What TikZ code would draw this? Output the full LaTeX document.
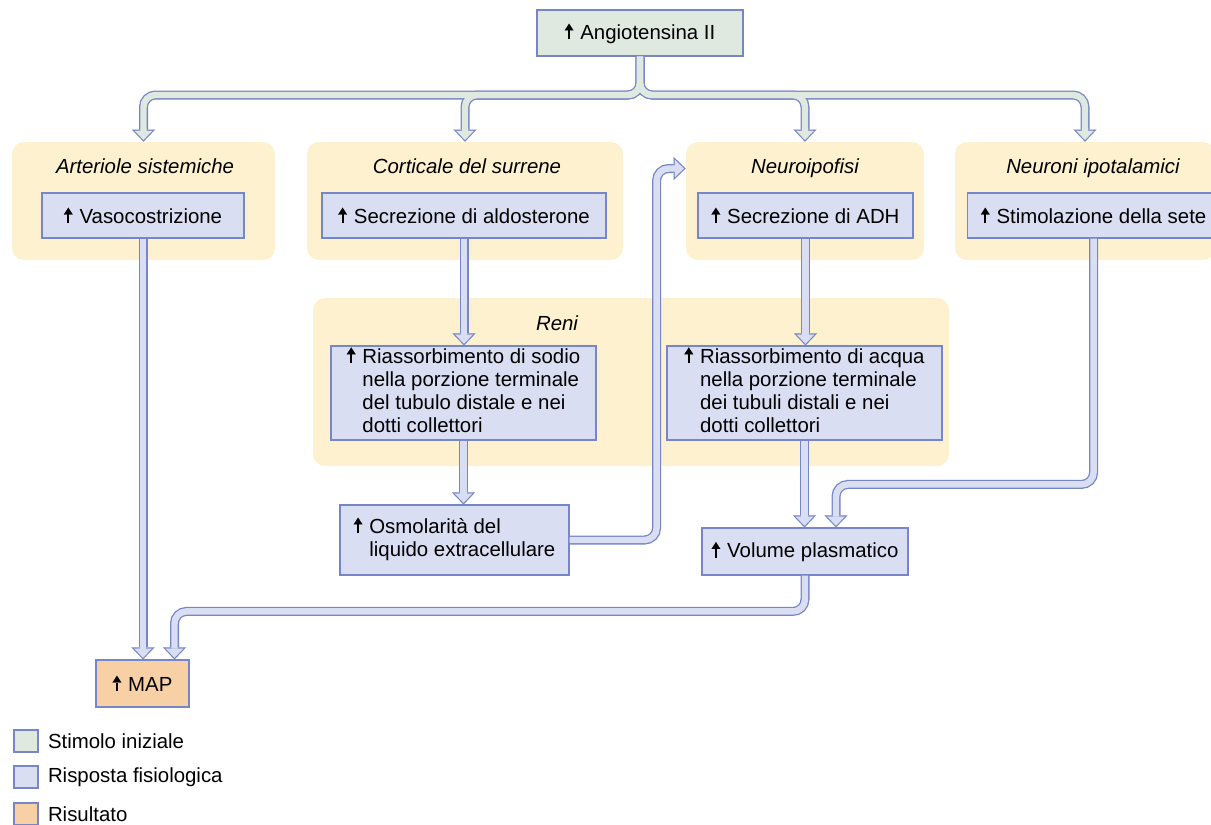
\documentclass[tikz,border=0pt]{standalone}
\usepackage{fontspec}
\setmainfont{Liberation Sans}
\usetikzlibrary{arrows.meta, positioning, calc}

\definecolor{stimgreen}{RGB}{223,233,224}
\definecolor{resplav}{RGB}{218,222,242}
\definecolor{resorange}{RGB}{248,208,166}
\definecolor{organyel}{RGB}{253,241,207}
\definecolor{pipeline}{RGB}{118,134,198}

% freccia di aumento
\newcommand{\incr}{\tikz[baseline=0pt]\draw[black, line width=1.1pt,
  -{Triangle[length=3.4pt,width=4.4pt,line width=0.01pt]}] (0pt,0pt) -- (0pt,7.8pt);\kern0.6pt}

\tikzset{
  organ/.style={fill=organyel, rounded corners=6pt, inner sep=0pt},
  organtitle/.style={font=\fontsize{10.2}{11.6}\selectfont\itshape, inner sep=0pt,
    text height=7.4pt, text depth=2.2pt},
  box/.style={draw=pipeline, line width=0.6pt, fill=#1, inner sep=0pt},
  pipeedge/.style={draw=pipeline, line width=4.5pt, rounded corners=6pt, shorten >=0pt,
    -{Triangle[length=6pt,width=11.5pt,line width=0.01pt]}},
  pipefill/.style={draw=#1, line width=3.2pt, rounded corners=6pt, shorten >=0.87pt,
    -{Triangle[length=4.5pt,width=8.7pt,line width=0.01pt]}},
  pipe/.style={pipefill=#1, preaction={pipeedge}},
}

\begin{document}
\begin{tikzpicture}[x=0.5pt, y=-0.5pt, font=\fontsize{10.2}{11.6}\selectfont]
\useasboundingbox (0,0) rectangle (1211,825);

% organi
\node[organ, minimum width=131.5pt, minimum height=59pt] (arter) at (143.5,201) {};
\node[organ, minimum width=158pt, minimum height=59pt] (cort) at (465,201) {};
\node[organ, minimum width=119pt, minimum height=59pt] (neuro) at (805,201) {};
\node[organ, minimum width=130pt, minimum height=59pt] (ipot) at (1085,201) {};
\node[organ, minimum width=318pt, minimum height=84pt] (reni) at (631,382) {};
\node[organtitle] (t-arter) at (145,168.5) {Arteriole sistemiche};
\node[organtitle] (t-cort) at (467,168.5) {Corticale del surrene};
\node[organtitle] (t-neuro) at (805,168.5) {Neuroipofisi};
\node[organtitle] (t-ipot) at (1093,168.5) {Neuroni ipotalamici};
\node[organtitle] (t-reni) at (557,325) {Reni};

% stimolo iniziale
\node[box=stimgreen, minimum width=103pt, minimum height=23pt] (ang) at (640,33) {\incr\ Angiotensina II};

% risposte
\node[box=resplav, minimum width=101pt, minimum height=22.5pt] (vaso) at (143,215.5) {\incr\ Vasocostrizione};
\node[box=resplav, minimum width=142pt, minimum height=22.5pt] (aldo) at (464,215.5) {\incr\ Secrezione di aldosterone};
\node[box=resplav, minimum width=107.5pt, minimum height=22.5pt] (adh) at (805.5,215.5) {\incr\ Secrezione di ADH};
\node[box=resplav, minimum width=126pt, minimum height=22.5pt, anchor=west] (sete) at (967,215.5) {\incr\ Stimolazione della sete};
\node[box=resplav, minimum width=132.5pt, minimum height=47pt] (sodio) at (463.5,393) {%
  \begin{tabular}{@{}l@{\ }l@{}}
  \incr & Riassorbimento di sodio\\
        & nella porzione terminale\\
        & del tubulo distale e nei\\
        & dotti collettori
  \end{tabular}};
\node[box=resplav, minimum width=137.5pt, minimum height=47pt] (acqua) at (804.5,393) {%
  \begin{tabular}{@{}l@{\ }l@{}}
  \incr & Riassorbimento di acqua\\
        & nella porzione terminale\\
        & dei tubuli distali e nei\\
        & dotti collettori
  \end{tabular}};
\node[box=resplav, minimum width=114.5pt, minimum height=35pt] (osmo) at (454.5,540) {%
  \begin{tabular}{@{}l@{\ }l@{}}
  \incr & Osmolarità del\\
        & liquido extracellulare
  \end{tabular}};
\node[box=resplav, minimum width=103pt, minimum height=23.5pt] (vol) at (805,551.5) {\incr\ Volume plasmatico};

% risultato
\node[box=resorange, minimum width=46.5pt, minimum height=23.5pt] (map) at (142.5,683.5) {\incr\ MAP};

% albero dall'angiotensina (bordi prima, poi riempimento)
\coordinate (bar) at (640,95);
\foreach \org in {arter,cort,neuro,ipot}
  \draw[pipeedge] (ang.south) |- (\org.north |- bar) -- (\org.north);
\foreach \org in {arter,cort,neuro,ipot}
  \draw[pipefill=stimgreen] (ang.south) |- (\org.north |- bar) -- (\org.north);

% frecce
\draw[pipe=resplav] (vaso.south) -- (vaso.south |- map.north);
\draw[pipe=resplav] (aldo.south) -- (aldo.south |- sodio.north);
\draw[pipe=resplav] (sodio.south) -- (sodio.south |- osmo.north);
\draw[pipe=resplav] (osmo.east) -| ($(neuro.west |- t-neuro)+(-29,0)$) -- (neuro.west |- t-neuro);
\draw[pipe=resplav] (adh.south) -- (adh.south |- acqua.north);
\draw[pipe=resplav] (acqua.south) -- (acqua.south |- vol.north);
\draw[pipe=resplav] (sete.south) |- ($(vol.north)+(31,-43)$) -- ($(vol.north)+(31,0)$);
\draw[pipe=resplav] (vol.south) |- ($(map.north)+(32,-48)$) -- ($(map.north)+(32,0)$);

% legenda
\node[box=stimgreen, minimum width=12pt, minimum height=11pt] (leg-stim) at (26,741) {};
\node[box=resplav, minimum width=12pt, minimum height=11pt] (leg-resp) at (26,777) {};
\node[box=resorange, minimum width=12pt, minimum height=11pt] (leg-res) at (26,814) {};
\node[right=4.5pt of leg-stim, inner sep=0pt] (leg-stim-txt) {Stimolo iniziale};
\node[right=4.5pt of leg-resp, inner sep=0pt] (leg-resp-txt) {Risposta fisiologica};
\node[right=4.5pt of leg-res, inner sep=0pt] (leg-res-txt) {Risultato};
\end{tikzpicture}
\end{document}
